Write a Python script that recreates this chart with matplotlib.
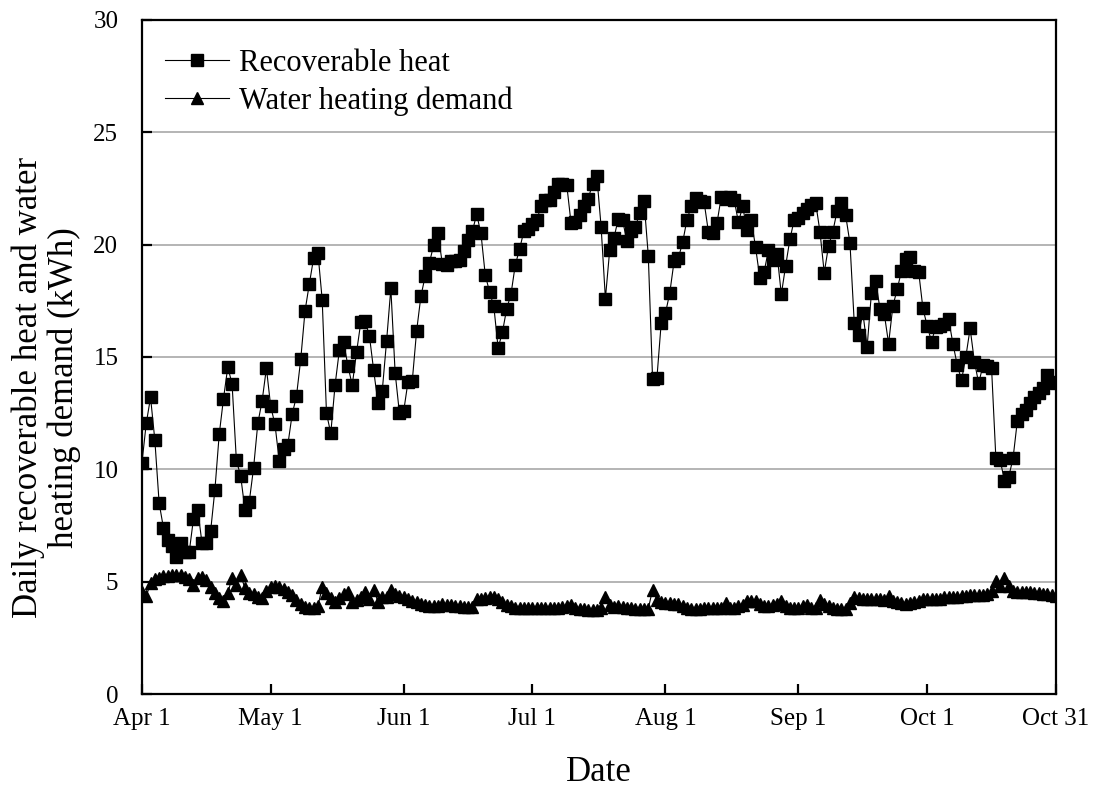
import numpy as np
import pandas as pd
import matplotlib
matplotlib.use("Agg")
import matplotlib.pyplot as plt

plt.rcParams['font.family'] = ['Liberation Serif', 'DejaVu Serif']

start_date = "2019-04-01"
end_date = "2019-10-31"

recoverable_heat = [
    10.3, 12.05, 13.2, 11.3, 8.5, 7.4, 6.85, 6.6, 6.1, 6.7,
    6.3, 6.3, 7.8, 8.2, 6.7, 6.7, 7.25, 9.1, 11.55, 13.15,
    14.55, 13.8, 10.4, 9.7, 8.2, 8.55, 10.05, 12.05, 13.05, 14.5,
    12.8, 12.0, 10.35, 10.9, 11.1, 12.45, 13.25, 14.9, 17.05, 18.25,
    19.4, 19.65, 17.55, 12.5, 11.6, 13.75, 15.3, 15.65, 14.6, 13.75,
    15.2, 16.55, 16.6, 15.95, 14.4, 12.95, 13.5, 15.7, 18.05, 14.3,
    12.5, 12.6, 13.9, 13.95, 16.15, 17.7, 18.6, 19.2, 20.0, 20.5,
    19.15, 19.1, 19.25, 19.25, 19.3, 19.7, 20.2, 20.6, 21.35, 20.5,
    18.65, 17.9, 17.25, 15.4, 16.1, 17.15, 17.8, 19.1, 19.8, 20.6,
    20.7, 20.9, 21.1, 21.7, 22.0, 22.0, 22.35, 22.7, 22.7, 22.65,
    20.95, 21.0, 21.3, 21.7, 22.05, 22.7, 23.05, 20.8, 17.6, 19.75,
    20.3, 21.15, 21.1, 20.15, 20.6, 20.8, 21.4, 21.95, 19.5, 14.0,
    14.05, 16.5, 16.95, 17.85, 19.25, 19.4, 20.1, 21.1, 21.7, 22.06,
    21.95, 21.9, 20.58, 20.5, 20.95, 22.13, 22.05, 22.1, 22.0, 21.0,
    21.7, 20.65, 21.1, 19.88, 18.5, 18.8, 19.76, 19.3, 19.58, 17.79,
    19.05, 20.24, 21.1, 21.2, 21.4, 21.6, 21.75, 21.87, 20.58, 18.75,
    19.94, 20.58, 21.5, 21.84, 21.3, 20.06, 16.5, 15.98, 16.97, 15.46,
    17.86, 18.4, 17.12, 16.91, 15.6, 17.27, 18.01, 18.83, 19.35, 19.46,
    18.84, 18.8, 17.16, 16.38, 15.68, 16.35, 16.4, 16.45, 16.68, 15.58,
    14.64, 13.97, 15.01, 16.27, 14.79, 13.83, 14.64, 14.6, 14.49, 10.49,
    10.42, 9.49, 9.67, 10.49, 12.15, 12.45, 12.65, 12.95, 13.2, 13.4,
    13.6, 14.2, 13.9, 13.85,
]

water_heating_demand = [
    4.55, 4.35, 4.95, 5.1, 5.18, 5.23, 5.27, 5.3, 5.3, 5.28,
    5.22, 5.1, 4.85, 5.15, 5.2, 5.07, 4.78, 4.48, 4.26, 4.15,
    4.5, 5.18, 4.85, 5.3, 4.7, 4.48, 4.45, 4.33, 4.26, 4.6,
    4.78, 4.82, 4.78, 4.67, 4.55, 4.4, 4.19, 4.0, 3.88, 3.85,
    3.85, 3.9, 4.75, 4.48, 4.26, 4.11, 4.26, 4.45, 4.52, 4.11,
    4.2, 4.33, 4.55, 4.25, 4.65, 4.1, 4.3, 4.3, 4.65, 4.45,
    4.35, 4.3, 4.25, 4.15, 4.1, 4.0, 3.95, 3.92, 3.9, 3.92,
    4.0, 3.98, 3.95, 3.92, 3.9, 3.88, 3.87, 3.87, 4.25, 4.25,
    4.28, 4.3, 4.3, 4.22, 4.1, 3.98, 3.9, 3.85, 3.83, 3.82,
    3.82, 3.82, 3.82, 3.82, 3.82, 3.83, 3.85, 3.85, 3.87, 3.92,
    3.95, 3.85, 3.8, 3.78, 3.75, 3.72, 3.75, 3.85, 4.3, 3.95,
    3.88, 3.9, 3.88, 3.85, 3.82, 3.8, 3.78, 3.78, 3.8, 4.65,
    4.2, 4.1, 4.05, 4.05, 4.0, 4.0, 3.9, 3.82, 3.8, 3.78,
    3.8, 3.82, 3.85, 3.82, 3.85, 3.85, 4.05, 3.85, 3.85, 3.9,
    3.98, 4.12, 4.12, 4.15, 4.0, 3.92, 3.9, 3.95, 4.0, 4.15,
    3.9, 3.82, 3.82, 3.84, 3.9, 3.98, 3.82, 3.85, 4.2, 4.0,
    3.9, 3.85, 3.8, 3.78, 3.8, 4.05, 4.3, 4.28, 4.25, 4.25,
    4.22, 4.22, 4.25, 4.2, 4.35, 4.15, 4.08, 4.05, 4.02, 4.03,
    4.08, 4.15, 4.25, 4.25, 4.22, 4.22, 4.25, 4.3, 4.33, 4.33,
    4.33, 4.36, 4.38, 4.4, 4.42, 4.4, 4.42, 4.45, 4.6, 5.05,
    4.8, 5.15, 4.8, 4.6, 4.55, 4.53, 4.52, 4.52, 4.5, 4.48,
    4.45, 4.43, 4.4, 4.38,
]

tick_dates = ["2019-04-01", "2019-05-01", "2019-06-01", "2019-07-01",
              "2019-08-01", "2019-09-01", "2019-10-01", "2019-10-31"]
tick_labels = ["Apr 1", "May 1", "Jun 1", "Jul 1", "Aug 1", "Sep 1", "Oct 1", "Oct 31"]
y_ticks = [0, 5, 10, 15, 20, 25, 30]

dates = pd.date_range(start_date, periods=len(recoverable_heat), freq="D")

fig = plt.figure(figsize=(10.98, 7.89), dpi=100)
ax = fig.add_axes([0.1293, 0.1204, 0.8324, 0.8543])

ax.plot(dates, recoverable_heat, color="black", lw=0.8, marker="s",
        markersize=8, markerfacecolor="black", markeredgecolor="black",
        label="Recoverable heat", zorder=3)
ax.plot(dates, water_heating_demand, color="black", lw=0.8, marker="^",
        markersize=9, markerfacecolor="black", markeredgecolor="black",
        label="Water heating demand", zorder=3)

ax.set_xlim(pd.Timestamp(start_date), pd.Timestamp(end_date))
ax.set_ylim(0, 30)
ax.set_yticks(y_ticks)
ax.set_xticks(pd.to_datetime(tick_dates))
ax.set_xticklabels(tick_labels)

ax.yaxis.grid(True, color="#a8a8a8", lw=1.2, zorder=0)
ax.set_axisbelow(True)

for s in ax.spines.values():
    s.set_linewidth(1.6)
ax.tick_params(axis="both", direction="in", length=7, width=1.6,
               labelsize=18, top=False, right=False)
ax.tick_params(axis="x", pad=10)
ax.tick_params(axis="y", pad=17)

ax.set_xlabel("Date", fontsize=25, labelpad=19)
ax.set_ylabel("Daily recoverable heat and water\nheating demand (kWh)",
              fontsize=25, linespacing=1.1)
ax.yaxis.set_label_coords(-0.067, 0.455)

leg = ax.legend(loc="upper left", frameon=False, fontsize=22,
                handlelength=2.1, borderaxespad=0.35, labelspacing=0.28,
                handletextpad=0.33, bbox_to_anchor=(0.0, 0.991))

fig.savefig("out.png", dpi=100)
